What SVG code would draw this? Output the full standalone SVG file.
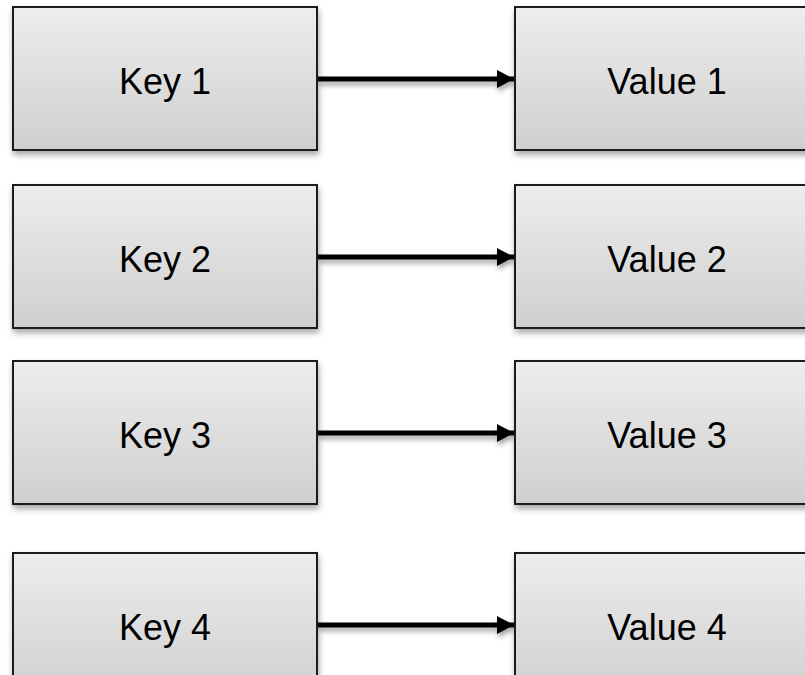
<svg xmlns="http://www.w3.org/2000/svg" width="805" height="675" viewBox="0 0 805 675">
<defs>
<linearGradient id="g" x1="0" y1="0" x2="0" y2="1">
<stop offset="0" stop-color="#ededed"/>
<stop offset="1" stop-color="#cfcfcf"/>
</linearGradient>
<filter id="sh" x="-10%" y="-10%" width="125%" height="130%">
<feGaussianBlur in="SourceAlpha" stdDeviation="3"/>
<feOffset dx="1" dy="4" result="b"/>
<feComponentTransfer><feFuncA type="linear" slope="0.35"/></feComponentTransfer>
<feMerge><feMergeNode/><feMergeNode in="SourceGraphic"/></feMerge>
</filter>
<filter id="shl" filterUnits="userSpaceOnUse" x="0" y="0" width="805" height="675">
<feGaussianBlur in="SourceAlpha" stdDeviation="2.5"/>
<feOffset dx="1" dy="4" result="b"/>
<feComponentTransfer><feFuncA type="linear" slope="0.35"/></feComponentTransfer>
<feMerge><feMergeNode/><feMergeNode in="SourceGraphic"/></feMerge>
</filter>
<marker id="ah" markerWidth="17" markerHeight="18" refX="17" refY="9" markerUnits="userSpaceOnUse" orient="auto" overflow="visible">
<path d="M0,0 L17,9 L0,18 Z" fill="#000"/>
</marker>
<style>
.box{fill:url(#g);stroke:#1a1a1a;stroke-width:2;filter:url(#sh)}
.t{font-family:"Liberation Sans",Arial,sans-serif;font-size:36px;fill:#000;text-anchor:middle}
.c{stroke:#000;stroke-width:5;fill:none;marker-end:url(#ah)}
</style>
</defs>
<rect width="805" height="675" fill="#fff"/>
<g id="connectors" filter="url(#shl)">
<line class="c" x1="318" y1="79" x2="514" y2="79"/>
<line class="c" x1="318" y1="257" x2="514" y2="257"/>
<line class="c" x1="318" y1="433" x2="514" y2="433"/>
<line class="c" x1="318" y1="625" x2="514" y2="625"/>
</g>
<g id="key1"><rect class="box" x="13" y="7" width="304" height="143"/><text class="t" x="165" y="94">Key 1</text></g>
<g id="value1"><rect class="box" x="515" y="7" width="304" height="143"/><text class="t" x="667" y="94">Value 1</text></g>
<g id="key2"><rect class="box" x="13" y="185" width="304" height="143"/><text class="t" x="165" y="272">Key 2</text></g>
<g id="value2"><rect class="box" x="515" y="185" width="304" height="143"/><text class="t" x="667" y="272">Value 2</text></g>
<g id="key3"><rect class="box" x="13" y="361" width="304" height="143"/><text class="t" x="165" y="448">Key 3</text></g>
<g id="value3"><rect class="box" x="515" y="361" width="304" height="143"/><text class="t" x="667" y="448">Value 3</text></g>
<g id="key4"><rect class="box" x="13" y="553" width="304" height="143"/><text class="t" x="165" y="640">Key 4</text></g>
<g id="value4"><rect class="box" x="515" y="553" width="304" height="143"/><text class="t" x="667" y="640">Value 4</text></g>
</svg>
